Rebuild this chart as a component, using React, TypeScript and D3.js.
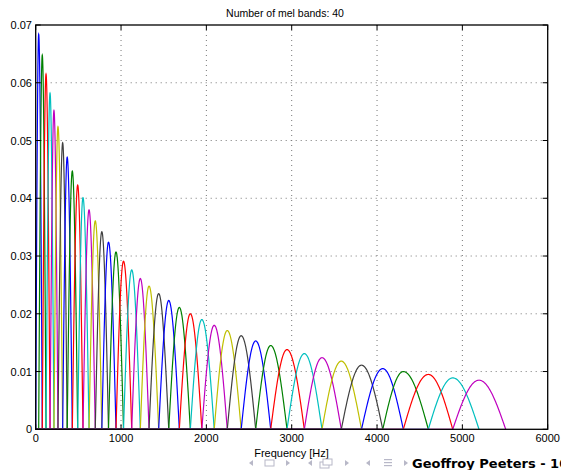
import React from "react";
import * as d3 from "d3";

const centers = [35, 77, 121, 168, 214, 261, 316, 369, 429, 492, 554, 625, 698, 775, 853, 941, 1029, 1125, 1226, 1328, 1441, 1559, 1683, 1812, 1947, 2092, 2245, 2408, 2578, 2754, 2945, 3148, 3355, 3581, 3818, 4067, 4308, 4601, 4887, 5195];
const heights = [0.0684, 0.0648, 0.0615, 0.0582, 0.0552, 0.0524, 0.0496, 0.0471, 0.0447, 0.0423, 0.0401, 0.038, 0.0361, 0.0342, 0.0324, 0.0307, 0.0291, 0.0276, 0.0261, 0.0248, 0.0235, 0.0223, 0.0211, 0.02, 0.019, 0.018, 0.0171, 0.0162, 0.0153, 0.0145, 0.0138, 0.0131, 0.0124, 0.0118, 0.0111, 0.0105, 0.01, 0.0095, 0.0089, 0.0085];
const lowEdge = 0;
const highEdge = 5508;
const xTicks = [0, 1000, 2000, 3000, 4000, 5000, 6000];
const yTicks = [0, 0.01, 0.02, 0.03, 0.04, 0.05, 0.06, 0.07];
const colors = ["#0000ff", "#008000", "#ff0000", "#00bfbf", "#bf00bf", "#bfbf00", "#404040"];
const title = "Number of mel bands: 40";
const xLabel = "Frequency [Hz]";
const footer = "Geoffroy Peeters - 10";

const W = 561, H = 470;
const L = 35.7, R = 547.7, T = 25, B = 429.3;

export default function App() {
  const x = d3.scaleLinear().domain([0, 6000]).range([L, R]);
  const y = d3.scaleLinear().domain([0, 0.07]).range([B, T]);
  const line = d3.line<[number, number]>().x(d => x(d[0])).y(d => y(d[1]));

  const paths = centers.map((c, i) => {
    const fl = i === 0 ? lowEdge : centers[i - 1];
    const fr = i === centers.length - 1 ? highEdge : centers[i + 1];
    const h = heights[i];
    const pts: [number, number][] = [];
    if (fl > 0) pts.push([0, 0]);
    const n = 40;
    for (let k = 0; k <= n; k++) {
      const f = fl + (c - fl) * k / n;
      pts.push([f, h * Math.sin(Math.PI / 2 * (f - fl) / (c - fl))]);
    }
    for (let k = 1; k <= n; k++) {
      const f = c + (fr - c) * k / n;
      pts.push([f, h * Math.sin(Math.PI / 2 * (fr - f) / (fr - c))]);
    }
    return { d: line(pts) || "", color: colors[i % colors.length] };
  });

  const font = "'Liberation Sans', Arial, Helvetica, sans-serif";
  const navColor = "#b8b8c8";

  return (
    <svg width={W} height={H} style={{ position: "absolute", left: 0, top: 0, background: "#fff" }}>
      <rect x={0} y={0} width={W} height={H} fill="#fff" />
      {/* grid */}
      {xTicks.slice(1, -1).map(t => (
        <line key={"gx" + t} x1={x(t)} x2={x(t)} y1={T} y2={B} stroke="#777" strokeWidth={1} strokeDasharray="1,4" />
      ))}
      {yTicks.slice(1, -1).map(t => (
        <line key={"gy" + t} x1={L} x2={R} y1={y(t)} y2={y(t)} stroke="#777" strokeWidth={1} strokeDasharray="1,4" />
      ))}
      {/* filters */}
      {paths.map((p, i) => (
        <path key={i} d={p.d} fill="none" stroke={p.color} strokeWidth={1.2} />
      ))}
      {/* box */}
      <rect x={L} y={T} width={R - L} height={B - T} fill="none" stroke="#000" strokeWidth={1.3} />
      {/* ticks */}
      {xTicks.map(t => (
        <g key={"tx" + t}>
          <line x1={x(t)} x2={x(t)} y1={B} y2={B - 5} stroke="#000" />
          <line x1={x(t)} x2={x(t)} y1={T} y2={T + 5} stroke="#000" />
          <text x={x(t)} y={442} fontSize={11} fontFamily={font} textAnchor="middle" fill="#000">{t}</text>
        </g>
      ))}
      {yTicks.map(t => (
        <g key={"ty" + t}>
          <line x1={L} x2={L + 5} y1={y(t)} y2={y(t)} stroke="#000" />
          <line x1={R} x2={R - 5} y1={y(t)} y2={y(t)} stroke="#000" />
          <text x={32} y={y(t) + 4} fontSize={11} fontFamily={font} textAnchor="end" fill="#000">{t === 0 ? "0" : t.toFixed(2)}</text>
        </g>
      ))}
      <text x={285} y={17} fontSize={10.5} fontFamily={font} textAnchor="middle" fill="#000">{title}</text>
      <text x={291.5} y={457} fontSize={11} fontFamily={font} textAnchor="middle" fill="#000">{xLabel}</text>
      {/* navigation symbols */}
      <g fill={navColor} stroke="none">
        <path d="M249,463 l4,-3 v6 z" />
        <rect x={265} y={460} width={9} height={6} fill="none" stroke={navColor} />
        <path d="M290,463 l-4,-3 v6 z" />
        <path d="M308,463 l4,-3 v6 z" />
        <rect x={320} y={462} width={9} height={6} fill="none" stroke={navColor} />
        <rect x={323} y={459} width={9} height={6} fill="#fff" stroke={navColor} />
        <path d="M349,463 l-4,-3 v6 z" />
        <path d="M366,463 l4,-3 v6 z" />
        <rect x={384} y={459} width={8} height={1.2} />
        <rect x={384} y={462} width={8} height={1.2} />
        <rect x={384} y={465} width={8} height={1.2} />
        <path d="M408,463 l-4,-3 v6 z" />
      </g>
      <text x={412} y={468} fontSize={13} fontWeight="bold" fontFamily="'DejaVu Sans', sans-serif" fill="#000">{footer}</text>
    </svg>
  );
}
